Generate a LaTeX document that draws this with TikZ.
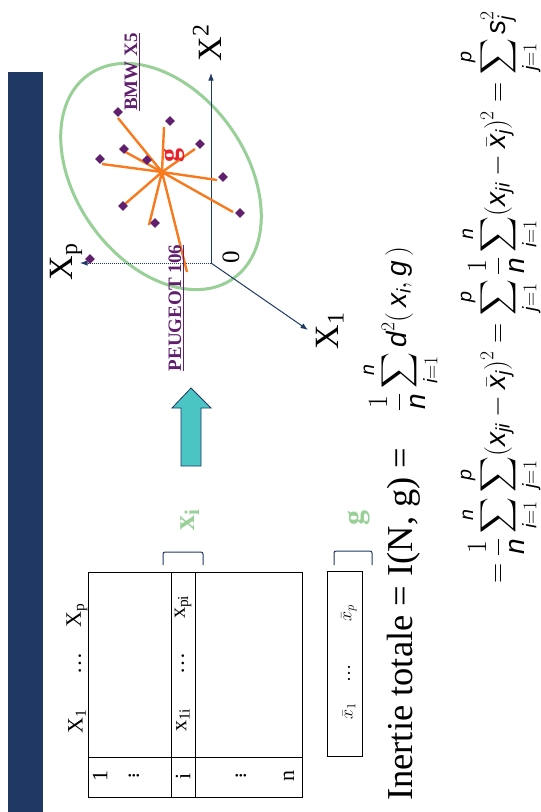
\RequirePackage{fix-cm}
\documentclass[tikz,border=0pt]{standalone}
\usepackage{exscale}
\usepackage{fontspec}
\setmainfont{Liberation Serif}
\setmathrm{Liberation Sans}
\usetikzlibrary{arrows.meta,shapes.geometric}
\definecolor{slideNavy}{HTML}{1F3864}
\definecolor{slideGreen}{HTML}{98D098}
\definecolor{slidePurple}{HTML}{60206E}
\definecolor{slideOrange}{HTML}{F77A1E}
\definecolor{slideRed}{HTML}{E8202A}
\definecolor{slideCyan}{HTML}{4BC4C4}
\newcommand{\mv}[1]{\mathit{#1}}

\begin{document}
\begin{tikzpicture}[x=1pt,y=-1pt,>=Latex,
  every node/.style={rotate=90,inner sep=0pt},
  axis/.style={->,draw=slideNavy,line width=1pt},
  ray/.style={draw=slideOrange,line width=2.4pt},
  car/.style={diamond,fill=slidePurple,minimum size=10pt},
  carname/.style={text=slidePurple,font=\fontsize{19}{19}\selectfont\bfseries},
  axlabel/.style={font=\fontsize{34}{34}\selectfont},
  bracket/.style={draw=slideNavy,line width=1pt,rounded corners=2pt},
  cell/.style={font=\fontsize{22}{22}\selectfont},
  greenlab/.style={text=slideGreen,font=\fontsize{30}{30}\selectfont\bfseries},
  formula/.style={font=\fontsize{28}{28}\selectfont}]
\useasboundingbox (0,0) rectangle (541,812);
% title bar of the slide
\fill[slideNavy] (8,72) rectangle (43,812);

% cloud of cars around g
\draw[slideGreen,line width=3pt,rotate around={-54.5:(161,176.5)}] (161,176.5) ellipse [x radius=125,y radius=85];
\coordinate (O) at (211,263);
\coordinate (x1tip) at (308,330);
\coordinate (x2tip) at (211,73);
\coordinate (xptip) at (80,263);
\draw[axis] (O) -- (x2tip);
\draw[axis] (O) -- (x1tip);
\draw[axis,densely dotted] (O) -- (xptip);
\node[axlabel] (lx1) at (330,331) {X\textsubscript{1}};
\node[axlabel] (lx2) at (207,43) {X\textsuperscript{2}};
\node[axlabel] (lxp) at (66,262) {X\textsubscript{p}};
\node[font=\fontsize{25}{25}\selectfont] (zero) at (231,257) {0};

\coordinate (gc) at (162,172);
\foreach \x/\y [count=\k] in {118/118,164/127,195/149,120/149,102/164,217/180,125/204,233/212,149/225,187/272}{
  \coordinate (e\k) at (\x,\y);
  \draw[ray] (gc) -- (e\k);
}
\foreach \x/\y [count=\k] in {118/112,170/121,200/144,124/149,100/159,147/160,223/177,123/206,240/213,155/223,90/259}
  \node[car] (c\k) at (\x,\y) {};
\node[text=slideRed,font=\fontsize{28}{28}\selectfont\bfseries] (glab) at (174,155) {g};
\node[carname,anchor=base] (bmw) at (137,72) {\underline{BMW X5}};
\node[carname,anchor=base] (peugeot) at (181,308) {\underline{PEUGEOT 106}};

% arrow from the table to the cloud
\draw[draw=slideNavy,fill=slideCyan,line width=0.8pt] (181,466) -- (181,408) -- (172,408) -- (191,388) -- (211,408) -- (201,408) -- (201,466) -- cycle;

% data table
\draw[line width=1pt] (88,572) rectangle (302,797);
\draw[line width=1pt] (88,757) -- (302,757);
\draw[line width=1pt] (171,572) rectangle (195,797);
\node[cell] (h1) at (77,721) {X\textsubscript{1}};
\node[cell] (hd) at (80,663) {\dots};
\node[cell] (hp) at (77,615) {X\textsubscript{p}};
\node[cell] (r1) at (100,776) {1};
\node[cell] (rd1) at (131,776) {$\vdots$};
\node[cell] (ri) at (183,776) {i};
\node[cell] (rd2) at (238,776) {$\vdots$};
\node[cell] (rn) at (289,776) {n};
\node[cell] (x1i) at (183,720) {x\textsubscript{1i}};
\node[cell] (xdi) at (183,663) {\dots};
\node[cell] (xpi) at (183,607) {x\textsubscript{pi}};
\draw[bracket] (163,565) |- (203,552) -- (203,565);
\node[greenlab] (xi) at (190,520) {x\textsubscript{i}};

% centre of gravity
\draw[line width=1pt] (327,571) rectangle (362,756);
\node[font=\fontsize{18}{18}\selectfont] (m1) at (349,711) {$\bar{x}_1$};
\node[font=\fontsize{18}{18}\selectfont] (md) at (349,673) {\dots};
\node[font=\fontsize{18}{18}\selectfont] (mp) at (349,613) {$\bar{x}_p$};
\draw[bracket] (334,565) |- (372,551) -- (372,565);
\node[greenlab] (gl) at (359,518) {g};

% total inertia
\node[font=\fontsize{36.5}{36.5}\selectfont,anchor=base east] (inertie) at (412,477) {Inertie totale = I(N, g)};
\node[font=\fontsize{36.5}{36.5}\selectfont,anchor=base] (eq) at (412,458) {=};
\node[formula,anchor=base west] (f1) at (406,411) {$\displaystyle\frac{1}{\mv{n}}\sum_{\mv{i}=1}^{\mv{n}}\mv{d}^{2}(\,\mv{x}_{\mv{i}},\mv{g}\,)$};
\node[formula,anchor=base west] (f2) at (505,584) {$\displaystyle=\frac{1}{\mv{n}}\sum_{\mv{i}=1}^{\mv{n}}\sum_{\mv{j}=1}^{\mv{p}}(\mv{x}_{\mv{ji}}-\bar{\mv{x}}_{\mv{j}})^{2}=\sum_{\mv{j}=1}^{\mv{p}}\frac{1}{\mv{n}}\sum_{\mv{i}=1}^{\mv{n}}(\mv{x}_{\mv{ji}}-\bar{\mv{x}}_{\mv{j}})^{2}=\sum_{\mv{j}=1}^{\mv{p}}\mv{s}_{\mv{j}}^{2}$};
\end{tikzpicture}
\end{document}
